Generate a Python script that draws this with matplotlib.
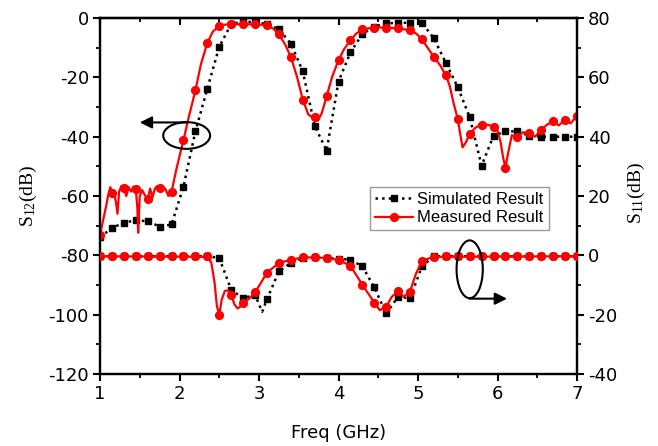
import matplotlib
matplotlib.use("Agg")
import matplotlib.pyplot as plt
from matplotlib.lines import Line2D
from matplotlib.patches import Ellipse
from matplotlib.ticker import MultipleLocator

plt.rcParams["font.family"] = "DejaVu Sans"
plt.rcParams["axes.unicode_minus"] = False
plt.rcParams["mathtext.fontset"] = "custom"
plt.rcParams["mathtext.rm"] = "Liberation Serif"

# marker grid, GHz
freq = [1.00, 1.15, 1.30, 1.45, 1.60, 1.75, 1.90, 2.05, 2.20, 2.35,
        2.50, 2.65, 2.80, 2.95, 3.10, 3.25, 3.40, 3.55, 3.70, 3.85,
        4.00, 4.15, 4.30, 4.45, 4.60, 4.75, 4.90, 5.05, 5.20, 5.35,
        5.50, 5.65, 5.80, 5.95, 6.10, 6.25, 6.40, 6.55, 6.70, 6.85,
        7.00]

# S12 (left axis, dB)
sim_s12 = [-73.9, -70.8, -69.0, -68.2, -68.5, -70.3, -69.6, -56.8, -38.2, -23.8,
           -9.7, -2.0, -1.2, -1.4, -2.0, -3.8, -8.6, -17.9, -36.3, -44.7,
           -21.4, -11.6, -5.4, -2.9, -1.8, -1.6, -1.6, -1.6, -6.9, -15.1,
           -23.3, -33.4, -49.8, -39.7, -38.2, -38.2, -39.7, -40.0, -40.0, -40.0,
           -40.0]
meas_s12_mk = [-73.0, -58.9, -57.4, -57.7, -61.1, -57.4, -58.5, -41.1, -24.4, -8.4,
               -2.7, -2.1, -2.1, -2.1, -2.4, -5.5, -13.1, -27.5, -33.2, -26.4,
               -14.2, -7.5, -3.8, -3.2, -3.2, -3.5, -4.1, -7.2, -13.1, -19.3,
               -34.0, -39.1, -35.9, -36.6, -50.4, -40.2, -38.9, -37.7, -34.8, -34.3,
               -32.9]

# measured S12 trace (denser than the markers)
meas_s12_f = [1.00, 1.04, 1.08, 1.10, 1.13, 1.15, 1.17, 1.20, 1.22, 1.24,
              1.27, 1.30, 1.33, 1.36, 1.39, 1.42, 1.45, 1.47, 1.48, 1.50,
              1.53, 1.56, 1.60, 1.63, 1.66, 1.69, 1.72, 1.75, 1.78, 1.82,
              1.86, 1.90, 1.96, 2.05, 2.12, 2.20, 2.27, 2.35, 2.42, 2.50,
              2.58, 2.65, 2.80, 2.95, 3.10, 3.18, 3.25, 3.33, 3.40, 3.48,
              3.55, 3.62, 3.67, 3.70, 3.74, 3.79, 3.85, 3.92, 4.00, 4.07,
              4.15, 4.22, 4.30, 4.45, 4.60, 4.75, 4.90, 4.98, 5.05, 5.12,
              5.20, 5.28, 5.35, 5.40, 5.45, 5.50, 5.53, 5.56, 5.60, 5.65,
              5.72, 5.80, 5.88, 5.95, 6.00, 6.04, 6.07, 6.10, 6.13, 6.18,
              6.25, 6.32, 6.40, 6.47, 6.55, 6.62, 6.70, 6.77, 6.85, 6.92,
              7.00]
meas_s12 = [-73.0, -68.0, -63.0, -60.0, -57.0, -58.9, -58.0, -62.0, -66.0, -58.5,
            -56.6, -57.4, -60.0, -57.0, -58.5, -56.8, -57.7, -64.0, -72.4, -60.0,
            -58.0, -59.5, -61.1, -57.5, -60.5, -57.5, -56.6, -57.4, -56.8, -57.5,
            -60.0, -58.5, -51.0, -41.1, -33.0, -24.4, -15.5, -8.4, -4.5, -2.7,
            -2.2, -2.1, -2.1, -2.1, -2.4, -3.6, -5.5, -9.0, -13.1, -20.0,
            -27.5, -32.5, -33.5, -33.2, -34.6, -32.0, -26.4, -19.8, -14.2, -10.5,
            -7.5, -5.3, -3.8, -3.2, -3.2, -3.5, -4.1, -5.3, -7.2, -10.0,
            -13.1, -16.0, -19.3, -23.0, -29.0, -34.0, -39.0, -43.6, -42.0, -39.1,
            -37.0, -35.9, -36.0, -36.6, -38.0, -42.0, -47.0, -50.4, -46.0, -39.5,
            -40.2, -38.5, -38.9, -40.0, -37.7, -36.0, -34.8, -36.2, -34.3, -35.5,
            -32.9]

# S11 (right axis, dB)
sim_s11 = [-0.3, -0.3, -0.3, -0.3, -0.3, -0.3, -0.3, -0.3, -0.3, -0.3,
           -0.9, -11.6, -14.5, -13.3, -14.8, -5.4, -2.6, -0.9, -0.7, -0.9,
           -1.1, -1.5, -3.7, -10.8, -19.6, -13.9, -14.5, -3.7, -0.3, -0.3,
           -0.3, -0.3, -0.3, -0.3, -0.3, -0.3, -0.3, -0.3, -0.3, -0.3,
           -0.3]
meas_s11_mk = [-0.3, -0.3, -0.3, -0.3, -0.3, -0.3, -0.3, -0.3, -0.3, -0.3,
               -20.1, -13.3, -16.2, -12.5, -5.8, -2.6, -1.5, -0.7, -0.7, -0.9,
               -1.5, -3.5, -9.9, -15.9, -17.3, -12.0, -12.2, -1.8, -0.5, -0.3,
               -0.3, -0.3, -0.3, -0.3, -0.3, -0.3, -0.3, -0.3, -0.3, -0.3,
               -0.3]

sim_s11_f = [1.00, 2.35, 2.50, 2.65, 2.80, 2.95, 3.04, 3.10, 3.25, 3.40,
             3.55, 3.70, 3.85, 4.00, 4.15, 4.30, 4.45, 4.60, 4.75, 4.90,
             5.05, 5.20, 7.00]
sim_s11_line = [-0.3, -0.3, -0.9, -11.6, -14.5, -13.3, -19.0, -14.8, -5.4, -2.6,
                -0.9, -0.7, -0.9, -1.1, -1.5, -3.7, -10.8, -19.6, -13.9, -14.5,
                -3.7, -0.3, -0.3]

meas_s11_f = [1.00, 2.35, 2.40, 2.44, 2.47, 2.50, 2.53, 2.57, 2.61, 2.65,
              2.69, 2.73, 2.77, 2.80, 2.88, 2.95, 3.03, 3.10, 3.25, 3.40,
              3.55, 3.70, 3.85, 4.00, 4.15, 4.30, 4.45, 4.52, 4.60, 4.67,
              4.75, 4.82, 4.90, 4.97, 5.05, 5.20, 7.00]
meas_s11 = [-0.3, -0.5, -2.5, -9.0, -17.0, -20.1, -15.0, -12.0, -11.8, -13.3,
            -16.5, -17.9, -17.2, -16.2, -14.5, -12.5, -9.0, -5.8, -2.6, -1.5,
            -0.7, -0.7, -0.9, -1.5, -3.5, -9.9, -15.9, -18.5, -17.3, -14.0,
            -12.0, -14.0, -12.2, -6.5, -1.8, -0.5, -0.3]

RED = "#ff0000"
SQ_MS = 4.6
CI_MS = 5.6

fig = plt.figure(figsize=(6.58, 4.46), dpi=100)
ax = fig.add_axes([0.152, 0.1614, 0.7249, 0.7982])
ax2 = ax.twinx()

# S12 on the left axis
ax.plot(freq, sim_s12, color="black", ls=":", lw=1.8, marker="s", ms=SQ_MS,
        zorder=2)
ax.plot(meas_s12_f, meas_s12, color=RED, lw=1.6, zorder=3)
ax.plot(freq, meas_s12_mk, "o", color=RED, ms=CI_MS, zorder=3)

# S11 on the right axis
ax2.plot(sim_s11_f, sim_s11_line, color="black", ls=":", lw=1.8, zorder=2)
ax2.plot(freq, sim_s11, "s", color="black", ms=SQ_MS, zorder=2)
ax2.plot(meas_s11_f, meas_s11, color=RED, lw=1.6, zorder=3)
ax2.plot(freq, meas_s11_mk, "o", color=RED, ms=CI_MS, zorder=3)

ax.set_xlim(1, 7)
ax.set_ylim(-120, 0)
ax2.set_ylim(-40, 80)

ax.xaxis.set_major_locator(MultipleLocator(1))
ax.xaxis.set_minor_locator(MultipleLocator(0.5))
ax.yaxis.set_major_locator(MultipleLocator(20))
ax.yaxis.set_minor_locator(MultipleLocator(10))
ax2.yaxis.set_major_locator(MultipleLocator(20))
ax2.yaxis.set_minor_locator(MultipleLocator(10))

for a in (ax, ax2):
    for s in a.spines.values():
        s.set_linewidth(1.6)
    a.tick_params(which="major", direction="out", length=5, width=1.5,
                  labelsize=13, pad=3)
    a.tick_params(which="minor", direction="out", length=3, width=1.3)

# inward ticks along the top edge, no labels
top = ax.secondary_xaxis("top")
top.xaxis.set_major_locator(MultipleLocator(1))
top.xaxis.set_minor_locator(MultipleLocator(0.5))
top.tick_params(which="major", direction="in", length=5, width=1.5,
                labeltop=False)
top.tick_params(which="minor", direction="in", length=3, width=1.3)
top.spines["top"].set_linewidth(1.6)

ax.set_xlabel("Freq (GHz)", fontsize=13)
ax.xaxis.set_label_coords(0.5, -0.14)
ax.set_ylabel(r"$\mathrm{S_{12}(dB)}$", fontsize=14)
ax.yaxis.set_label_coords(-0.128, 0.5)
ax2.set_ylabel(r"$\mathrm{S_{11}(dB)}$", fontsize=14)
ax2.yaxis.set_label_coords(1.103, 0.508)

# curve markers: ellipse + arrow pointing to the matching axis
ax.add_patch(Ellipse((2.09, -39.6), 0.59, 9.0, fill=False, ec="black",
                     lw=1.5, zorder=4))
ax.annotate("", xy=(1.50, -35.2), xytext=(2.09, -35.2),
            arrowprops=dict(arrowstyle="-|>", color="black", lw=1.5,
                            mutation_scale=18, shrinkA=0, shrinkB=0))
ax2.add_patch(Ellipse((5.65, -4.7), 0.33, 19.5, fill=False, ec="black",
                      lw=1.5, zorder=4))
ax2.annotate("", xy=(6.12, -14.6), xytext=(5.65, -14.6),
             arrowprops=dict(arrowstyle="-|>", color="black", lw=1.5,
                             mutation_scale=18, shrinkA=0, shrinkB=0))

handles = [
    Line2D([], [], color="black", ls=":", lw=1.8, marker="s", ms=SQ_MS),
    Line2D([], [], color=RED, lw=1.6, marker="o", ms=CI_MS),
]
leg = ax2.legend(handles, ["Simulated Result", "Measured Result"],
                 loc="upper left", bbox_to_anchor=(0.566, 0.525),
                 borderaxespad=0, fancybox=False, framealpha=1,
                 edgecolor="#999999", handlelength=2.3, handletextpad=0.25,
                 borderpad=0.3, labelspacing=0.2,
                 prop={"family": "Liberation Sans", "size": 12})
leg.get_frame().set_linewidth(1.0)

fig.savefig("out.png", dpi=100)
